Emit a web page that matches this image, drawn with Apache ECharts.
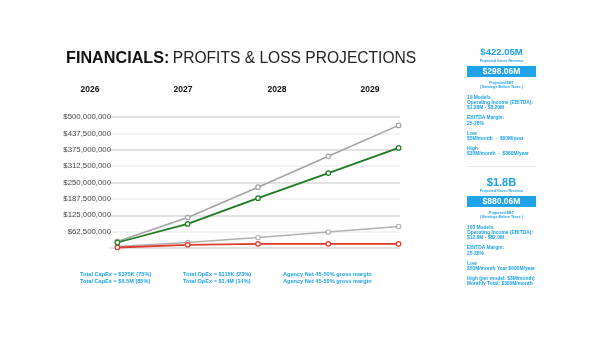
<!DOCTYPE html>
<html><head><meta charset="utf-8">
<script src="https://cdn.jsdelivr.net/npm/echarts@6/dist/echarts.min.js"></script>
<style>html,body{margin:0;padding:0;background:#fff}#c{width:600px;height:337px}</style>
</head><body><div id="c"></div>
<script>
// ---- data ----
const years = ['2026', '2027', '2028', '2029'];
const pointIndex = [0, 1, 2, 3, 4];
const grossRevenue = [25e6, 116e6, 232e6, 350e6, 468e6];
const ebt = [21e6, 92e6, 190e6, 286e6, 382e6];
const lowerGray = [6e6, 21e6, 40e6, 61e6, 82e6];
const costs = [2e6, 12e6, 16e6, 16e6, 16e6];
const yTicks = [0, 62.5e6, 125e6, 187.5e6, 250e6, 312.5e6, 375e6, 437.5e6, 500e6];
const footRow1 = ['Total CapEx = $375K (75%)', 'Total OpEx = $115K (23%)', 'Agency Net 45-50% gross margin'];
const footRow2 = ['Total CapEx = $6.5M (85%)', 'Total OpEx = $1.4M (14%)', 'Agency Net 45-50% gross margin'];
const panel1 = { gross: '$422.05M', ebt: '$298.06M', ebtLabel: 'Projected EBT',
  lines: [['10 Models','Operating Income (EBITDA):','$1.28M - $8.20M'],['EBITDA Margin:','25-28%'],['Low','$5M/month  -  $60M/year'],['High','$30M/month  -  $360M/year']] };
const panel2 = { gross: '$1.8B', ebt: '$880.06M', ebtLabel: 'Proposed EBT',
  lines: [['100 Models','Operating Income (EBITDA):','$12.8M - $82.0M'],['EBITDA Margin:','25-28%'],['Low','$50M/month Year $600M/year'],['High (per model: $3M/month)','Monthly Total: $300M/month']] };

const BLUE = '#1ea2e8';
const FONT = '"Liberation Sans", Arial, Helvetica, sans-serif';
const chart = echarts.init(document.getElementById('c'));

function pair(arr){ return arr.map((v,i)=>[pointIndex[i], v]); }
function ser(data, color, w){
  return { type:'line', data: pair(data), symbol:'circle', symbolSize:4.5,
    lineStyle:{ color, width:w }, itemStyle:{ color:'#fff', borderColor:color, borderWidth:1.2 }, z: 3 };
}

const g = [];
// title
g.push({ type:'text', left:66, top:51, style:{ text:'{b|FINANCIALS:} {r|PROFITS & LOSS PROJECTIONS}',
  rich:{ b:{ fontSize:16.2, fontWeight:'bold', fill:'#111', fontFamily:FONT }, r:{ fontSize:15.6, fill:'#222', fontFamily:FONT } } } });
// years
const yearX = [90, 183, 277, 370];
years.forEach((y,i)=> g.push({ type:'text', x:yearX[i], y:90, style:{ text:y, fontSize:8.5, fontWeight:'bold', fill:'#111', fontFamily:FONT, align:'center', verticalAlign:'middle' } }));
// footer
const footX = [80, 183, 283];
footRow1.forEach((t,i)=> g.push({ type:'text', x:footX[i], y:274, style:{ text:t, fontSize:5.6, fontWeight:'bold', fill:BLUE, fontFamily:FONT, verticalAlign:'middle' } }));
footRow2.forEach((t,i)=> g.push({ type:'text', x:footX[i], y:281, style:{ text:t, fontSize:5.6, fontWeight:'bold', fill:BLUE, fontFamily:FONT, verticalAlign:'middle' } }));

function panel(p, top, grossSize){
  const cx = 501.5;
  const tiny = { fontSize:3.6, fontWeight:'bold', fill:BLUE, fontFamily:FONT, align:'center', verticalAlign:'middle' };
  g.push({ type:'text', x:cx, y:top, style:{ text:p.gross, fontSize:grossSize, fontWeight:'bold', fill:BLUE, fontFamily:FONT, align:'center', verticalAlign:'middle' } });
  g.push({ type:'text', x:cx, y:top+8, style:Object.assign({ text:'Projected Gross Revenue' }, tiny) });
  g.push({ type:'rect', shape:{ x:467, y:top+13.5, width:69, height:11 }, style:{ fill:BLUE } });
  g.push({ type:'text', x:cx, y:top+19, style:{ text:p.ebt, fontSize:8.5, fontWeight:'bold', fill:'#fff', fontFamily:FONT, align:'center', verticalAlign:'middle' } });
  g.push({ type:'text', x:cx, y:top+30, style:Object.assign({ text:p.ebtLabel }, tiny) });
  g.push({ type:'text', x:cx, y:top+34.5, style:Object.assign({ text:'( Earnings Before Taxes )' }, tiny) });
  let y = top + 45;
  p.lines.forEach(group => {
    group.forEach(t => {
      g.push({ type:'text', x:467, y:y, style:{ text:t, fontSize:4.9, fontWeight:'bold', fill:BLUE, fontFamily:FONT, verticalAlign:'middle' } });
      y += 5.2;
    });
    y += 5;
  });
}
panel(panel1, 52.5, 9.5);
g.push({ type:'line', shape:{ x1:467, y1:166.5, x2:536, y2:166.5 }, style:{ stroke:'#e6e6e6', lineWidth:1 } });
panel(panel2, 182.5, 11);

chart.setOption({
  backgroundColor:'#fff',
  animation:false,
  grid:{ left:109, right:200, top:117, bottom:89, containLabel:false },
  xAxis:{ type:'value', min:-0.12, max:4.02, show:false },
  yAxis:{ type:'value', min:yTicks[0], max:yTicks[yTicks.length-1], interval:yTicks[1]-yTicks[0],
    axisLine:{ show:false }, axisTick:{ show:false },
    splitLine:{ lineStyle:{ color:['#d9d9d9','#efefef'], width:1.5 } },
    axisLabel:{ margin:-2, fontSize:7.8, color:'#444', fontFamily:FONT,
      formatter: v => v === 0 ? '' : '$' + Math.round(v).toLocaleString('en-US') } },
  series:[ ser(lowerGray,'#b0b0b0',1.5), ser(costs,'#e0392b',1.8), ser(grossRevenue,'#a3a3a3',1.6), ser(ebt,'#1f7a1f',1.8) ],
  graphic: g
});
</script></body></html>
